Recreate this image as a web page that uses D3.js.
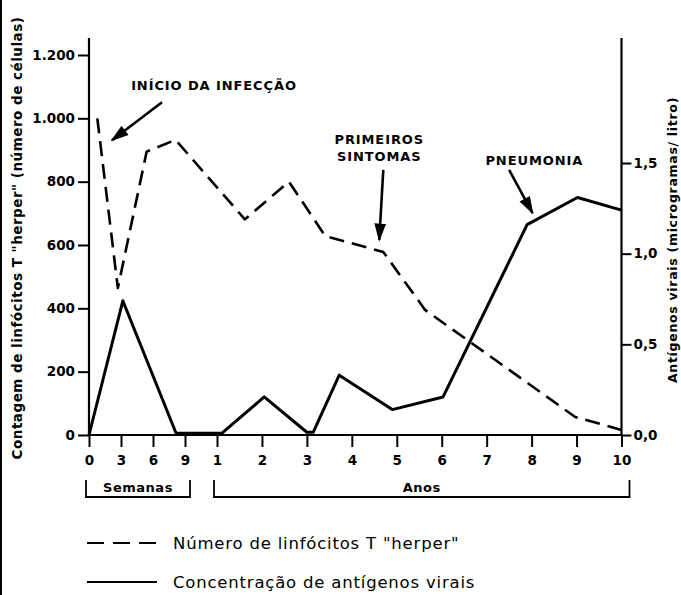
<!DOCTYPE html>
<html>
<head>
<meta charset="utf-8">
<script src="https://cdn.jsdelivr.net/npm/d3@7"></script>
<style>
  html, body { margin: 0; padding: 0; background: #fff; }
  svg { display: block; }
  text { font-family: "DejaVu Sans", "Liberation Sans", sans-serif; fill: #000; }
</style>
</head>
<body>
<script>
// ---------- data (time in years; weeks converted as w/52) ----------
const weekTickValues = [0, 3 / 52, 6 / 52, 9 / 52];
const weekTickLabels = ["0", "3", "6", "9"];
const yearTickValues = [1, 2, 3, 4, 5, 6, 7, 8, 9, 10];
const yearTickLabels = ["1", "2", "3", "4", "5", "6", "7", "8", "9", "10"];

const leftTicks = [0, 200, 400, 600, 800, 1000, 1200];
const rightTicks = [0, 0.5, 1.0, 1.5];

// Número de linfócitos T "herper" (left axis)
const lymphTime   = [0.015, 0.052, 0.104, 0.156, 1.62, 2.60, 3.41, 4.70, 5.63, 8.97, 10.0];
const lymphValues = [1000,  464,   895,   932,   681,  800,  628,  578,  395,  57,   16];

// Concentração de antígenos virais (right axis)
const antigenTime   = [0, 0.061, 0.157, 1.11, 2.05, 3.00, 3.14, 3.72, 4.90, 6.03, 7.90, 9.02, 10.0];
const antigenValues = [0, 0.74,  0.01,  0.01, 0.21, 0.015, 0.015, 0.33, 0.14, 0.21, 1.16, 1.31, 1.24];

const labels = {
  leftTitle: "Contagem de linfócitos T \"herper\" (número de células)",
  rightTitle: "Antígenos virais (microgramas/ litro)",
  weeks: "Semanas",
  years: "Anos",
  legendLymph: "Número de linfócitos T \"herper\"",
  legendAntigen: "Concentração de antígenos virais"
};

// annotations in data coordinates (time in years, value on left axis)
const annotations = [
  { lines: ["INÍCIO DA INFECÇÃO"], t: 0.923, v: 1105, from: [0.1316, 1051], to: [0.0415, 931] },
  { lines: ["PRIMEIROS", "SINTOMAS"], t: 4.61, v: 935, from: [4.70, 837], to: [4.61, 616] },
  { lines: ["PNEUMONIA"], t: 8.06, v: 868, from: [7.50, 837], to: [8.02, 701] }
];

// ---------- layout ----------
const W = 681, H = 595;
const svg = d3.select("body").append("svg").attr("width", W).attr("height", H);
svg.append("rect").attr("width", W).attr("height", H).attr("fill", "#fff");

const x = d3.scaleLinear().domain([0, 9 / 52, 1, 10]).range([89, 185, 217, 621.5]);
const yL = d3.scaleLinear().domain([0, 1200]).range([435, 55]);
const yR = d3.scaleLinear().domain([0, 1.5]).range([435, 163]);
const axisTop = 38;

const ptBR = d3.formatLocale({ decimal: ",", thousands: ".", grouping: [3], currency: ["R$", ""] });

// scan border on the left edge
svg.append("line").attr("x1", 1).attr("x2", 1).attr("y1", 0).attr("y2", H)
  .attr("stroke", "#000").attr("stroke-width", 2);

// ---------- axes ----------
function styleAxis(g) {
  g.select(".domain").remove();
  g.selectAll(".tick line").attr("stroke", "#000").attr("stroke-width", 2);
  g.selectAll(".tick text").attr("font-size", 13.5).attr("font-weight", "bold")
    .attr("font-family", "DejaVu Sans, sans-serif").attr("fill", "#000");
}

svg.append("g").attr("transform", `translate(${x(0)},0)`)
  .call(d3.axisLeft(yL).tickValues(leftTicks).tickSize(11).tickPadding(3).tickFormat(ptBR.format(",")))
  .call(styleAxis);
svg.append("line").attr("x1", x(0)).attr("x2", x(0)).attr("y1", yL(0)).attr("y2", axisTop)
  .attr("stroke", "#000").attr("stroke-width", 2.2);

svg.append("g").attr("transform", `translate(${x(10)},0)`)
  .call(d3.axisRight(yR).tickValues(rightTicks).tickSize(10).tickPadding(2).tickFormat(ptBR.format(".1f")))
  .call(styleAxis);
svg.append("line").attr("x1", x(10)).attr("x2", x(10)).attr("y1", yR(0)).attr("y2", axisTop)
  .attr("stroke", "#000").attr("stroke-width", 2.2);

const allTicks = weekTickValues.concat(yearTickValues);
const allLabels = weekTickLabels.concat(yearTickLabels);
svg.append("g").attr("transform", `translate(0,${yL(0)})`)
  .call(d3.axisBottom(x).tickValues(allTicks).tickSize(12).tickPadding(8)
    .tickFormat((d, i) => allLabels[i]))
  .call(styleAxis);
svg.append("line").attr("x1", x(0)).attr("x2", x(10)).attr("y1", yL(0)).attr("y2", yL(0))
  .attr("stroke", "#000").attr("stroke-width", 2.2);

// axis titles
svg.append("text").attr("transform", `translate(22,${238}) rotate(-90)`)
  .attr("text-anchor", "middle").attr("font-size", 13.5).attr("font-weight", "bold")
  .attr("letter-spacing", 0.5)
  .text(labels.leftTitle);
svg.append("text").attr("transform", `translate(${677},${240}) rotate(-90)`)
  .attr("text-anchor", "middle").attr("font-size", 12.5).attr("font-weight", "bold")
  .attr("letter-spacing", 0.7)
  .text(labels.rightTitle);

// period brackets
function bracket(t0, t1, text, dx0, dx1) {
  const xa = x(t0) + dx0, xb = x(t1) + dx1, yTop = 480, yBot = 497;
  svg.append("path").attr("d", `M${xa},${yTop}V${yBot}H${xb}V${yTop}`)
    .attr("fill", "none").attr("stroke", "#000").attr("stroke-width", 1.8);
  svg.append("text").attr("x", (xa + xb) / 2).attr("y", 492)
    .attr("text-anchor", "middle").attr("font-size", 13).attr("font-weight", "bold")
    .attr("letter-spacing", 0.5).text(text);
}
bracket(0, 9 / 52, labels.weeks, -3, 5);
bracket(1, 10, labels.years, -3, 8);

// ---------- series ----------
const lymph = lymphTime.map((t, i) => ({ t, v: lymphValues[i] }));
const antigen = antigenTime.map((t, i) => ({ t, v: antigenValues[i] }));

svg.append("path").datum(lymph)
  .attr("d", d3.line().x(d => x(d.t)).y(d => yL(d.v)))
  .attr("fill", "none").attr("stroke", "#000").attr("stroke-width", 2.6)
  .attr("stroke-dasharray", "15,8").attr("stroke-linejoin", "round");

svg.append("path").datum(antigen)
  .attr("d", d3.line().x(d => x(d.t)).y(d => yR(d.v)))
  .attr("fill", "none").attr("stroke", "#000").attr("stroke-width", 3)
  .attr("stroke-linejoin", "round");

// ---------- annotations ----------
const defs = svg.append("defs");
defs.append("marker").attr("id", "arrow").attr("viewBox", "0 0 10 10")
  .attr("refX", 9).attr("refY", 5).attr("markerWidth", 7).attr("markerHeight", 7)
  .attr("markerUnits", "strokeWidth").attr("orient", "auto")
  .append("path").attr("d", "M0,1.8L10,5L0,8.2Z").attr("fill", "#000");

annotations.forEach(a => {
  const tx = x(a.t), ty = yL(a.v);
  a.lines.forEach((ln, i) => {
    svg.append("text").attr("x", tx).attr("y", ty + i * 17 + 5)
      .attr("text-anchor", "middle").attr("font-size", 13).attr("font-weight", "bold")
      .attr("letter-spacing", 0.9).text(ln);
  });
  svg.append("line")
    .attr("x1", x(a.from[0])).attr("y1", yL(a.from[1]))
    .attr("x2", x(a.to[0])).attr("y2", yL(a.to[1]))
    .attr("stroke", "#000").attr("stroke-width", 2.6).attr("marker-end", "url(#arrow)");
});

// ---------- legend ----------
const legend = [
  { y: 543, dash: "17,9", text: labels.legendLymph },
  { y: 582, dash: null, text: labels.legendAntigen }
];
legend.forEach(l => {
  const ln = svg.append("line").attr("x1", 87).attr("x2", 157).attr("y1", l.y).attr("y2", l.y)
    .attr("stroke", "#000").attr("stroke-width", 2.2);
  if (l.dash) ln.attr("stroke-dasharray", l.dash);
  svg.append("text").attr("x", 173).attr("y", l.y + 6).attr("font-size", 16.5)
    .attr("letter-spacing", 0.8).text(l.text);
});
</script>
</body>
</html>
